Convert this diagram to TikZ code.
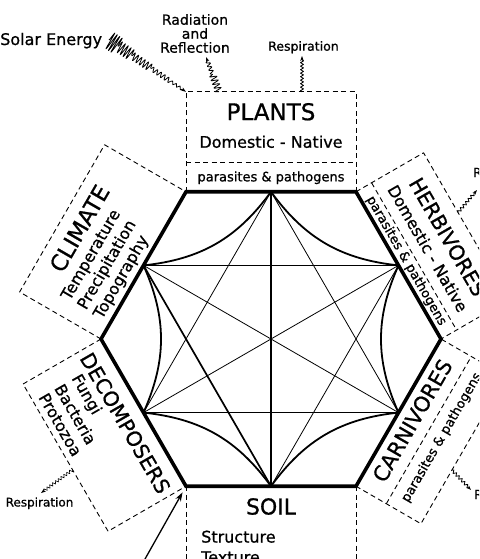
\documentclass[tikz,border=0pt]{standalone}
\usepackage{fontspec}
\setmainfont{DejaVu Sans}[RawFeature={embolden=0.8}]
\usetikzlibrary{calc,arrows.meta,decorations.pathmorphing}

\begin{document}
\begin{tikzpicture}[x=1pt,y=1pt,line join=round,
    rim/.style={line width=3.6pt,line join=miter},
    heavy/.style={line width=1.7pt},
    light/.style={line width=0.8pt},
    bow/.style={line width=1.8pt},
    boxline/.style={line width=0.9pt,dash pattern=on 5pt off 3.5pt},
    titletext/.style={inner sep=0pt,font=\fontsize{#1}{24}\selectfont},
    titletext/.default=22,
    subtext/.style={inner sep=0pt,font=\fontsize{16}{18}\selectfont},
    minortext/.style={inner sep=0pt,font=\fontsize{13}{15}\selectfont},
    notetext/.style={inner sep=0pt,font=\fontsize{#1}{#1}\selectfont},
    waveline/.style={line width=0.8pt},
    wiggle/.style 2 args={decorate,decoration={snake,amplitude=#1,segment length=#2}},
    wavetip/.style={-{Stealth[length=5pt,width=3.5pt]},decoration={post length=3pt}}]
  \useasboundingbox (0,0) rectangle (479,-559);
  \clip (0,0) rectangle (479,-559);

  % hexagon corners and side midpoints
  \coordinate (c) at (271,-339);
  \foreach \a/\n in {0/ve,60/vne,120/vnw,180/vw,240/vsw,300/vse}
    \coordinate (\n) at ($(c)+(\a:170)$);
  \foreach \a/\n in {90/plants,30/herb,330/carn,270/soil,210/decomp,150/climate}
    \coordinate (\n) at ($(c)+(\a:147.22)$);

  % links through the middle
  \foreach \p/\q in {plants/carn,plants/decomp,herb/soil,herb/climate,herb/decomp,carn/climate,carn/decomp}
    \draw[light] (\p) -- (\q);
  \draw[heavy] (plants) -- (soil);
  \draw[heavy] (climate) -- (soil);
  % bowed links between neighbouring sides
  \foreach \p/\q in {herb/plants,plants/climate,climate/decomp,decomp/soil,soil/carn,carn/herb}
    \draw[bow] (\p) to[bend left=24] (\q);
  % the hexagon itself
  \draw[rim] (ve) -- (vne) -- (vnw) -- (vw) -- (vsw) -- (vse) -- cycle;

  % PLANTS (top)
  \begin{scope}[shift={(plants)}]
    \draw[boxline] (-85,0) -- (-85,100) -- (85,100) -- (85,0);
    \draw[boxline] (-85,29) -- (85,29);
    \coordinate (pl-nw) at (-85,100);
    \coordinate (pl-rad) at (-52,100);
    \coordinate (pl-resp) at (31,100);
    \node[titletext=23] (plantsT) at (0,80) {PLANTS};
    \node[subtext] (plantsS) at (0,50) {Domestic - Native};
    \node[minortext] (plantsP) at (0,14) {parasites \& pathogens};
  \end{scope}

  % HERBIVORES (upper right)
  \begin{scope}[shift={(herb)},rotate=-60,transform shape]
    \draw[boxline] (-85,0) -- (-85,78) -- (85,78) -- (85,0);
    \draw[boxline] (-85,18) -- (85,18);
    \coordinate (hb-resp) at (-16,78);
    \node[titletext=20.5] (herbT) at (0,57) {HERBIVORES};
    \node[subtext] (herbS) at (0,34) {Domestic - Native};
    \node[minortext] (herbP) at (0,9) {parasites \& pathogens};
  \end{scope}

  % CLIMATE (upper left)
  \begin{scope}[shift={(climate)},rotate=60,transform shape]
    \draw[boxline] (-85,0) -- (-85,94) -- (85,94) -- (85,0);
    \node[titletext=22.5] (climT) at (0,74) {CLIMATE};
    \node[subtext,anchor=west] (climS1) at (-68,50) {Temperature};
    \node[subtext,anchor=west] (climS2) at (-68,31.5) {Precipitation};
    \node[subtext,anchor=west] (climS3) at (-68,13) {Topography};
  \end{scope}

  % DECOMPOSERS (lower left)
  \begin{scope}[shift={(decomp)},rotate=-60,transform shape]
    \draw[boxline] (-85,0) -- (-85,-90) -- (85,-90) -- (85,0);
    \coordinate (db-resp) at (14,-90);
    \node[titletext=20.5] (decT) at (0,-21) {DECOMPOSERS};
    \node[subtext,anchor=west] (decS1) at (-66,-41) {Fungi};
    \node[subtext,anchor=west] (decS2) at (-66,-59.5) {Bacteria};
    \node[subtext,anchor=west] (decS3) at (-66,-78) {Protozoa};
  \end{scope}

  % SOIL (bottom, runs off the page)
  \begin{scope}[shift={(soil)}]
    \draw[boxline] (-85,0) -- (-85,-90);
    \draw[boxline] (85,0) -- (85,-90);
    \node[titletext] (soilT) at (0,-20.3) {SOIL};
    \node[subtext,anchor=west] (soilS1) at (-70,-50.5) {Structure};
    \node[subtext,anchor=west] (soilS2) at (-70,-71) {Texture};
  \end{scope}

  % CARNIVORES (lower right)
  \begin{scope}[shift={(carn)},rotate=60,transform shape]
    \draw[boxline] (-85,0) -- (-85,-75) -- (85,-75) -- (85,0);
    \draw[boxline] (-85,-35) -- (85,-35);
    \coordinate (cb-resp) at (-23,-75);
    \node[titletext=21] (carnT) at (0,-16) {CARNIVORES};
    \node[minortext] (carnP) at (0,-50) {parasites \& pathogens};
  \end{scope}

  % solar energy in, radiation out
  \node[notetext=16,anchor=base west] (solar) at (0,-45) {Solar Energy};
  \coordinate (sunStart) at (109,-40);
  \foreach \s/\e/\amp/\len in {0/0.12/9/3,0.12/0.3/6/3.5,0.3/0.55/4/4,0.55/0.8/2.5/4.5}
    \draw[waveline,wiggle={\amp pt}{\len pt}] ($(sunStart)!\s!(pl-nw)$) -- ($(sunStart)!\e!(pl-nw)$);
  \draw[waveline,wiggle={1.5pt}{4.5pt},wavetip] ($(sunStart)!0.8!(pl-nw)$) -- (pl-nw);

  \node[notetext=14,align=center] (radn) at (195,-33.5) {Radiation\\and\\Reflection};
  \coordinate (radTip) at (206,-57);
  \draw[waveline,wiggle={3.5pt}{4pt}] (pl-rad) -- ($(pl-rad)!0.5!(radTip)$);
  \draw[waveline,wiggle={2pt}{4pt},wavetip] ($(pl-rad)!0.5!(radTip)$) -- (radTip);

  % respiration losses
  \node[notetext=12.5,anchor=base] (respPl) at (303.5,-50.7) {Respiration};
  \coordinate (plTip) at (302,-56);
  \draw[light,wiggle={1.5pt}{3.5pt},wavetip] (pl-resp) -- (plTip);

  \node[notetext=12.5,anchor=base west] (respHb) at (473,-177) {Respiration};
  \coordinate (hbTip) at (477,-190);
  \draw[light,wiggle={1.5pt}{4pt},wavetip] (hb-resp) -- (hbTip);

  \node[notetext=12.5,anchor=base west] (respCb) at (474,-499) {Respiration};
  \coordinate (cbTip) at (471,-490);
  \draw[light,wiggle={1.5pt}{4pt},wavetip] (cb-resp) -- (cbTip);

  \node[notetext=12,anchor=base] (respDb) at (39.5,-506.5) {Respiration};
  \coordinate (dbTip) at (41,-493);
  \draw[line width=0.6pt,wiggle={1.5pt}{3.5pt},wavetip] (db-resp) -- (dbTip);

  % input arrow at the soil corner
  \coordinate (feed) at (136,-575);
  \draw[line width=1.3pt,-{Stealth[length=9pt,width=6pt]},shorten >=7pt] (feed) -- (vsw);
\end{tikzpicture}
\end{document}
